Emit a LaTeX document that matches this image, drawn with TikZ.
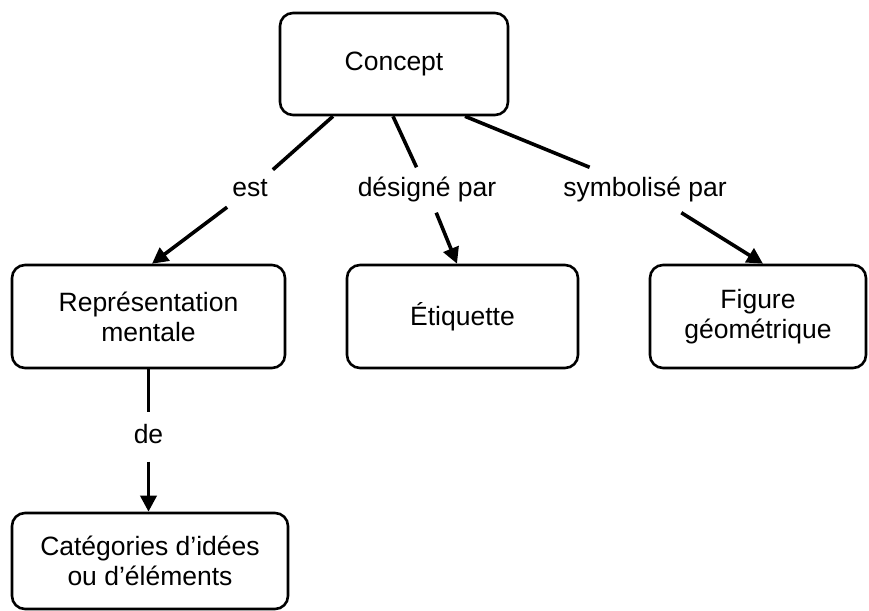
\documentclass[tikz,border=0pt]{standalone}
\usepackage{fontspec}
\setmainfont{Liberation Sans}
\usetikzlibrary{arrows.meta}
\tikzset{
  box/.style={draw=black, line width=2.6bp, rounded corners=13bp, fill=white,
    align=center, inner sep=0pt, font=\fontsize{26.5bp}{30bp}\selectfont},
  lbl/.style={inner xsep=5bp, inner ysep=10bp, text height=19bp, text depth=6bp,
    font=\fontsize{26.5bp}{30bp}\selectfont},
  conn/.style={line width=3.6bp, black},
  arr/.style={conn, -{Triangle[length=16bp, width=16bp]}}
}
\begin{document}
\begin{tikzpicture}[x=1bp, y=-1bp]
\useasboundingbox (0,0) rectangle (869,611);
% boxes
\node[box, minimum width=228bp, minimum height=102bp] (concept) at (394,64) {Concept};
\node[box, minimum width=273bp, minimum height=103bp] (rep) at (148.5,316.5) {Représentation\\mentale};
\node[box, minimum width=231bp, minimum height=103bp] (eti) at (462.5,316.5) {Étiquette};
\node[box, minimum width=216bp, minimum height=103bp] (fig) at (758,316.5) {Figure\\géométrique};
\node[box, minimum width=276bp, minimum height=96bp] (cat) at (150,561) {Catégories d’idées\\ou d’éléments};
% labels
\node[lbl] (est) at (250,190) {est};
\node[lbl] (des) at (427,190) {désigné par};
\node[lbl] (sym) at (645,190) {symbolisé par};
\node[lbl, inner ysep=12bp] (de) at (148.5,437) {de};
% connectors
\draw[conn] ([xshift=-61bp]concept.south) -- (est);
\draw[arr] (est) -- ([xshift=3.5bp]rep.north);
\draw[conn] ([xshift=-1bp]concept.south) -- (des);
\draw[arr] (des) -- ([xshift=-5.5bp]eti.north);
\draw[conn] ([xshift=71bp]concept.south) -- (sym);
\draw[arr] (sym) -- ([xshift=5bp]fig.north);
\draw[conn] (rep.south) -- (de);
\draw[arr] (de) -- (de |- cat.north);
\end{tikzpicture}
\end{document}
